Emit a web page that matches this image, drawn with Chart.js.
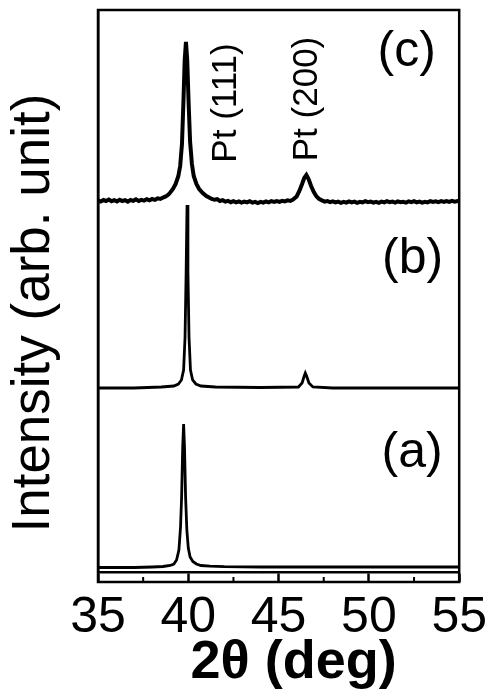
<!DOCTYPE html>
<html>
<head>
<meta charset="utf-8">
<script src="https://cdn.jsdelivr.net/npm/chart.js@4.4.1/dist/chart.umd.min.js"></script>
<style>
  html, body { margin: 0; padding: 0; background: #fff; }
  #wrap { width: 493px; height: 697px; position: relative; }
</style>
</head>
<body>
<div id="wrap"><canvas id="xrd"></canvas></div>
<script>
// 2theta (deg) / intensity (arb. unit, traces stacked with offsets)
const thetaA = [35, 36, 37, 38, 38.6, 39.0, 39.2, 39.35, 39.48, 39.57, 39.63, 39.69, 39.74, 39.79, 39.85, 39.92, 40.0, 40.1, 40.25, 40.45, 40.7, 41.2, 42, 44, 50, 55];
const intensityA = [4.5, 4.5, 4.5, 5, 5.5, 6.5, 8, 12, 22, 45, 75, 125, 148, 125, 75, 42, 24, 15, 10.5, 8, 6.5, 5.8, 5.3, 5, 5, 5];

const thetaB = [35, 37, 38.5, 39.2, 39.45, 39.62, 39.74, 39.82, 39.88, 39.93, 39.98, 40.04, 40.12, 40.24, 40.42, 40.7, 41.5, 44, 46.1, 46.3, 46.42, 46.48, 46.55, 46.68, 46.9, 48, 55];
const intensityB = [184, 184, 185, 186, 188, 192, 202, 235, 300, 367, 300, 235, 202, 192, 188, 186, 185, 184.5, 185, 189, 196, 199, 196, 189, 185, 184, 184];

const thetaC = [35.0, 35.15, 35.3, 35.45, 35.6, 35.75, 35.9, 36.05, 36.2, 36.35, 36.5, 36.65, 36.8, 36.95, 37.1, 37.25, 37.4, 37.55, 37.7, 37.85,
  38.0, 38.15, 38.3, 38.45, 38.6, 38.75, 38.9,
  39.0, 39.15, 39.3, 39.45, 39.55, 39.65, 39.73, 39.8, 39.87, 39.94, 40.02, 40.1, 40.2, 40.3, 40.45, 40.6, 40.8,
  41.0, 41.15, 41.3, 41.45, 41.6, 41.75, 41.9, 42.05, 42.2, 42.35, 42.5, 42.65, 42.8, 42.95, 43.1, 43.25, 43.4, 43.55, 43.7, 43.85,
  44.0, 44.15, 44.3, 44.45, 44.6, 44.75, 44.9, 45.05, 45.2, 45.35, 45.5, 45.65, 45.8,
  46.0, 46.15, 46.3, 46.42, 46.54, 46.66, 46.8, 46.95, 47.1, 47.25, 47.4, 47.55, 47.7, 47.85,
  48.0, 48.15, 48.3, 48.45, 48.6, 48.75, 48.9, 49.05, 49.2, 49.35, 49.5, 49.65, 49.8, 49.95,
  50.1, 50.25, 50.4, 50.55, 50.7, 50.85, 51.0, 51.15, 51.3, 51.45, 51.6, 51.75, 51.9,
  52.05, 52.2, 52.35, 52.5, 52.65, 52.8, 52.95, 53.1, 53.25, 53.4, 53.55, 53.7, 53.85,
  54.0, 54.15, 54.3, 54.45, 54.6, 54.75, 54.9, 55.0];
const intensityC = [371.5, 370.5, 372, 371, 372.5, 370.8, 371.8, 370.6, 372.2, 371, 371.8, 370.4, 372, 371.2, 372.6, 371, 372.2, 371.4, 372.8, 371.6,
  373, 372.2, 373.6, 373, 374.5, 375.5, 377.5,
  379.5, 383, 388, 396, 406, 428, 470, 512, 530, 512, 468, 430, 408, 396, 388, 383, 379,
  376, 374.5, 373, 372.2, 372.8, 371, 371.8, 370.4, 371.2, 369.8, 370.8, 369.6, 370.6, 369.4, 370.4, 369.6, 370.8, 369.4, 370.2, 369,
  370.2, 369.4, 370.6, 369.6, 370.8, 370, 371, 370.2, 371.2, 370.6, 371.6, 371, 372.4,
  375.5, 381, 388, 394, 397, 393, 386, 380, 375.5, 373, 371.6, 370.4, 371, 369.8,
  370.6, 369.6, 370.4, 369.2, 370.2, 369.4, 370.6, 369.6, 370.4, 369.2, 370.2, 369.6, 370.8, 369.8,
  370.4, 369.4, 370.2, 369.2, 370.4, 369.6, 370.8, 369.8, 370.4, 369.4, 370.6, 369.8, 370.2,
  369.4, 370.6, 369.8, 370.8, 369.6, 370.4, 369.4, 370.2, 369.6, 370.8, 370, 370.6, 369.8,
  370.8, 370, 371, 370.2, 371.2, 370.4, 371, 370.6];

const xTicks = [35, 40, 45, 50, 55];
const minorTicks = [37.5, 42.5, 47.5, 52.5];

// labels: [text, 2theta, intensity]
const peakLabels = [['Pt (111)', 42.09, 469], ['Pt (200)', 46.59, 473]];
const panelLabels = [['(c)', 52.09, 520], ['(b)', 52.42, 313], ['(a)', 52.39, 119]];

const FONT = '"Liberation Sans", Arial, sans-serif';

const toPoints = (xs, ys) => xs.map((x, i) => ({ x, y: ys[i] }));

const frame = {
  id: 'frame',
  afterDraw(chart) {
    const { ctx, chartArea: a, scales } = chart;
    ctx.save();
    ctx.strokeStyle = '#000';
    ctx.lineWidth = 2.5;
    ctx.strokeRect(a.left, a.top, a.right - a.left, a.bottom - a.top + 10);
    ctx.beginPath();
    minorTicks.forEach(v => {
      const px = scales.x.getPixelForValue(v);
      ctx.moveTo(px, a.bottom + 10);
      ctx.lineTo(px, a.bottom + 5);
    });
    ctx.lineWidth = 2;
    ctx.stroke();

    ctx.fillStyle = '#000';
    ctx.textBaseline = 'middle';
    ctx.textAlign = 'center';
    ctx.font = '35px ' + FONT;
    peakLabels.forEach(([t, x, y]) => {
      ctx.save();
      ctx.translate(scales.x.getPixelForValue(x), scales.y.getPixelForValue(y));
      ctx.rotate(-Math.PI / 2);
      ctx.fillText(t, 0, 0);
      ctx.restore();
    });
    ctx.font = '50px ' + FONT;
    panelLabels.forEach(([t, x, y]) => {
      ctx.fillText(t, scales.x.getPixelForValue(x), scales.y.getPixelForValue(y));
    });
    ctx.restore();
  }
};

const line = (xs, ys, w) => ({
  data: toPoints(xs, ys),
  borderColor: '#000',
  borderWidth: w,
  pointRadius: 0,
  tension: 0,
  fill: false
});

new Chart(document.getElementById('xrd'), {
  type: 'line',
  data: {
    datasets: [
      line(thetaA, intensityA, 2.8),
      line(thetaB, intensityB, 2.8),
      line(thetaC, intensityC, 4)
    ]
  },
  options: {
    responsive: true,
    maintainAspectRatio: false,
    animation: false,
    layout: { padding: { top: 10, right: 31, left: 0, bottom: 0 } },
    plugins: { legend: { display: false }, tooltip: { enabled: false } },
    scales: {
      x: {
        type: 'linear',
        min: 35,
        max: 55,
        afterBuildTicks: s => { s.ticks = xTicks.map(v => ({ value: v })); },
        afterFit: s => { s.height = 125; },
        grid: { drawOnChartArea: false, drawTicks: true, tickLength: 10, tickColor: '#000', tickWidth: 2.5 },
        border: { display: true, color: '#000', width: 2.5 },
        ticks: { color: '#000', padding: 6, maxRotation: 0, font: { family: FONT, size: 50 } },
        title: {
          display: true,
          text: '  2θ (deg)',
          color: '#000',
          padding: { top: 0, bottom: 1 },
          font: { family: FONT, size: 54, weight: 'bold' }
        }
      },
      y: {
        min: 0,
        max: 562,
        afterFit: s => { s.width = 98; },
        grid: { drawOnChartArea: false, drawTicks: false },
        border: { display: true, color: '#000', width: 2.5 },
        ticks: { display: false },
        title: {
          display: true,
          text: 'Intensity (arb. unit)   ',
          color: '#000',
          padding: { top: 3, bottom: 0 },
          font: { family: FONT, size: 53 }
        }
      }
    }
  },
  plugins: [frame]
});
</script>
</body>
</html>
